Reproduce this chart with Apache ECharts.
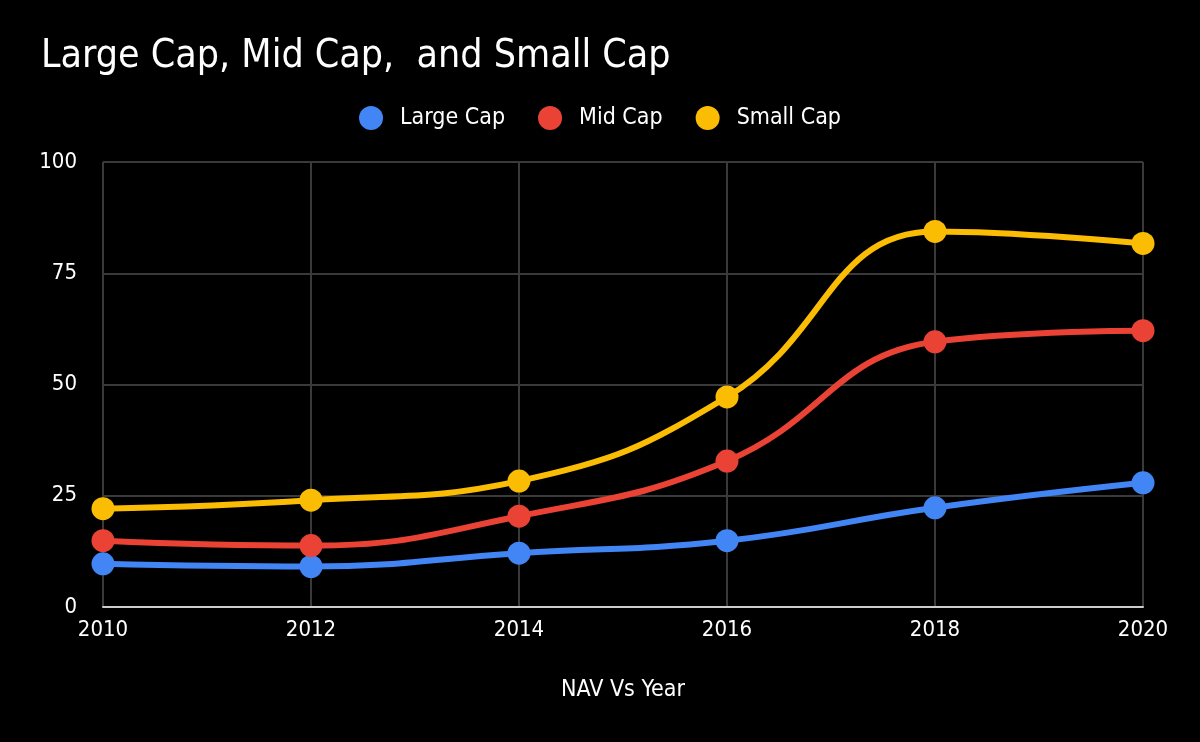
<!DOCTYPE html>
<html>
<head>
<meta charset="utf-8">
<script src="https://cdn.jsdelivr.net/npm/echarts@6/dist/echarts.min.js"></script>
<style>
  html, body { margin: 0; padding: 0; background: #000; }
  #chart { width: 1200px; height: 742px; }
</style>
</head>
<body>
<div id="chart"></div>
<script>
const years = ['2010', '2012', '2014', '2016', '2018', '2020']
const largeCap = [9.7, 9.1, 12.1, 14.9, 22.3, 27.9]
const midCap = [14.9, 13.8, 20.4, 32.8, 59.6, 62.1]
const smallCap = [22.1, 24.0, 28.3, 47.2, 84.4, 81.7]

const FONT = '"DejaVu Sans Condensed", "DejaVu Sans", sans-serif'

const makeSeries = (name, data, color) => ({
    name,
    type: 'line',
    data,
    smooth: 0.45,
    symbol: 'circle',
    symbolSize: 23,
    itemStyle: { color },
    lineStyle: { color, width: 6 }
})

const chart = echarts.init(document.getElementById('chart'))
chart.setOption({
    backgroundColor: '#000',
    animation: false,
    textStyle: { fontFamily: FONT },
    title: {
        text: 'Large Cap, Mid Cap,  and Small Cap',
        left: 36,
        top: 32,
        textStyle: { color: '#fff', fontSize: 39, fontWeight: 'normal', fontFamily: FONT }
    },
    legend: {
        top: 101,
        left: 'center',
        itemWidth: 24,
        itemHeight: 24,
        itemGap: 33,
        icon: 'circle',
        textStyle: { color: '#fff', fontSize: 23, fontFamily: FONT, padding: [0, 0, 0, 12] }
    },
    grid: { left: 103, right: 57, top: 162, bottom: 135 },
    xAxis: {
        type: 'category',
        data: years,
        boundaryGap: false,
        name: 'NAV Vs Year',
        nameLocation: 'middle',
        nameGap: 72,
        nameTextStyle: { color: '#fff', fontSize: 23, fontFamily: FONT },
        axisLine: { lineStyle: { color: '#ccc', width: 2 } },
        axisTick: { show: false },
        axisLabel: { color: '#fff', fontSize: 22, margin: 12, fontFamily: FONT },
        splitLine: { show: true, lineStyle: { color: '#3a3a3a', width: 2 } }
    },
    yAxis: {
        type: 'value',
        min: 0,
        max: 100,
        interval: 25,
        axisLine: { show: false },
        axisTick: { show: false },
        axisLabel: { color: '#fff', fontSize: 22, margin: 26, fontFamily: FONT },
        splitLine: { lineStyle: { color: '#3a3a3a', width: 2 } }
    },
    series: [
        makeSeries('Large Cap', largeCap, '#4285f4'),
        makeSeries('Mid Cap', midCap, '#ea4335'),
        makeSeries('Small Cap', smallCap, '#fbbc04')
    ]
})
</script>
</body>
</html>
